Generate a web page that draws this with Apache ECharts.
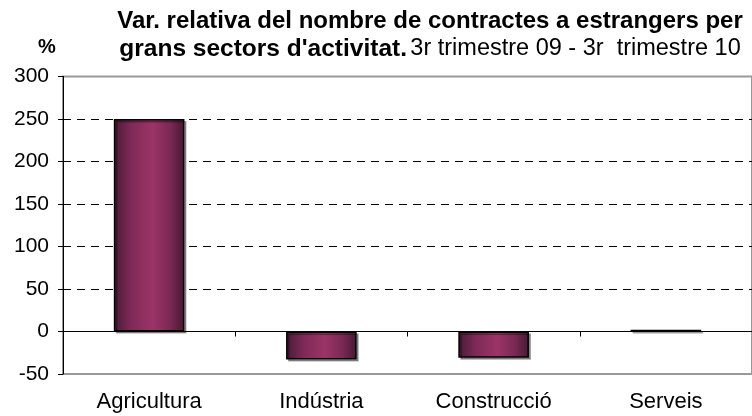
<!DOCTYPE html>
<html>
<head>
<meta charset="utf-8">
<script src="https://cdn.jsdelivr.net/npm/echarts@6/dist/echarts.min.js"></script>
<style>
  html, body { margin: 0; padding: 0; background: #fff; }
  #chart { width: 752px; height: 416px; }
</style>
</head>
<body>
<div id="chart"></div>
<script>
// dades llegides del gràfic
const sectors = ["Agricultura", "Indústria", "Construcció", "Serveis"];
const varRelativa = [250, -33, -31, 2];
const yMin = -50, yMax = 300, yStep = 50;

const chart = echarts.init(document.getElementById("chart"));

const barColor = new echarts.graphic.LinearGradient(0, 0, 1, 0, [
  { offset: 0, color: "#4a1a36" },
  { offset: 0.25, color: "#7e2a58" },
  { offset: 0.55, color: "#9c3466" },
  { offset: 0.8, color: "#7a2954" },
  { offset: 1, color: "#461833" }
]);

const font = "'Liberation Sans', Arial, sans-serif";

const option = {
  animation: false,
  backgroundColor: "#fff",
  graphic: [
    {
      type: "text",
      x: 430, y: 21,
      style: {
        text: "Var. relativa del nombre de contractes a estrangers per",
        font: "bold 24px " + font, fill: "#000",
        align: "center", verticalAlign: "middle"
      }
    },
    {
      type: "text",
      x: 430, y: 49,
      style: {
        text: "{b|grans sectors d'activitat.} {n|3r trimestre 09 - 3r  trimestre 10}",
        align: "center", verticalAlign: "middle",
        rich: {
          b: { font: "bold 24.5px " + font, fill: "#000" },
          n: { font: "23.5px " + font, fill: "#000" }
        }
      }
    },
    {
      type: "text",
      x: 38, y: 37,
      style: { text: "%", font: "bold 20px " + font, fill: "#000" }
    }
  ],
  grid: {
    left: 63, top: 76.5, width: 696, height: 297.5, containLabel: false,
    show: true, borderColor: "#999", borderWidth: 2, backgroundColor: "transparent"
  },
  xAxis: [
    {
      type: "category",
      data: sectors,
      axisLine: { onZero: true, lineStyle: { color: "#000", width: 1 } },
      axisTick: { show: true, length: 5, lineStyle: { color: "#000" } },
      axisLabel: { show: false },
      splitLine: { show: false }
    },
    {
      type: "category",
      data: sectors,
      position: "bottom",
      axisLine: { show: false, onZero: false },
      axisTick: { show: false },
      axisLabel: { margin: 17, fontFamily: font, fontSize: 22, color: "#000" }
    }
  ],
  yAxis: {
    type: "value",
    min: yMin,
    max: yMax,
    interval: yStep,
    axisLine: { show: true, lineStyle: { color: "#000" } },
    axisTick: { show: true, length: 5, lineStyle: { color: "#000" } },
    axisLabel: { fontFamily: font, fontSize: 21, color: "#000", margin: 14 },
    splitLine: {
      show: true,
      lineStyle: {
        type: [8, 6],
        width: 1,
        color: ["transparent", "transparent", "#000", "#000", "#000", "#000", "#000", "transparent"]
      }
    }
  },
  series: [
    {
      type: "bar",
      data: varRelativa,
      barWidth: "41%",
      xAxisIndex: 0,
      itemStyle: {
        color: barColor,
        borderColor: "#000",
        borderWidth: 1.5,
        shadowColor: "rgba(0,0,0,0.35)",
        shadowOffsetX: 2,
        shadowOffsetY: 2
      }
    }
  ]
};

chart.setOption(option);
</script>
</body>
</html>
